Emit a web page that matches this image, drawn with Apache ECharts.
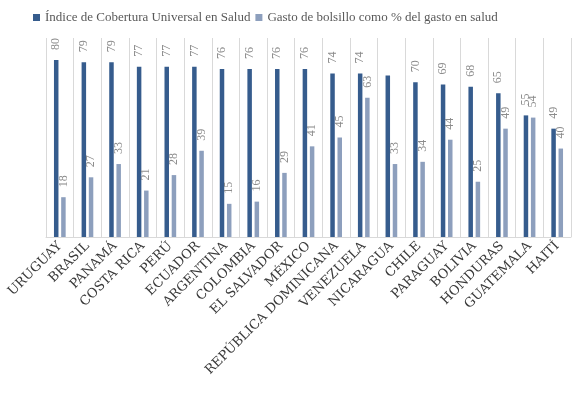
<!DOCTYPE html>
<html>
<head>
<meta charset="utf-8">
<script src="https://cdn.jsdelivr.net/npm/echarts@6/dist/echarts.min.js"></script>
<style>
html, body { margin: 0; padding: 0; background: #fff; }
#chart { width: 573px; height: 396px; }
</style>
</head>
<body>
<div id="chart"></div>
<script>
var countries = ['URUGUAY', 'BRASIL', 'PANAMÁ', 'COSTA RICA', 'PERÚ', 'ECUADOR', 'ARGENTINA', 'COLOMBIA',
    'EL SALVADOR', 'MÉXICO', 'REPÚBLICA DOMINICANA', 'VENEZUELA', 'NICARAGUA', 'CHILE', 'PARAGUAY',
    'BOLIVIA', 'HONDURAS', 'GUATEMALA', 'HAITÍ'];
var cobertura = [80, 79, 79, 77, 77, 77, 76, 76, 76, 76, 74, 74, 73, 70, 69, 68, 65, 55, 49];
var gastoBolsillo = [18, 27, 33, 21, 28, 39, 15, 16, 29, 41, 45, 63, 33, 34, 44, 25, 49, 54, 40];
// el original no rotula la barra de cobertura de Nicaragua
var sinEtiqueta = ['NICARAGUA'];

var chartDom = document.getElementById('chart');
var myChart = echarts.init(chartDom);

function serie(nombre, datos, color) {
    return {
        name: nombre,
        type: 'bar',
        barWidth: 4.5,
        barGap: '60%',
        itemStyle: { color: color },
        data: datos.map(function (v, i) {
            var d = { value: v };
            if (nombre.indexOf('Índice') === 0 && sinEtiqueta.indexOf(countries[i]) >= 0) {
                d.label = { show: false };
            }
            return d;
        }),
        label: {
            show: true,
            position: 'top',
            rotate: 90,
            align: 'left',
            verticalAlign: 'middle',
            distance: 10,
            color: '#8c8c8c',
            fontFamily: 'Liberation Serif',
            fontSize: 12
        }
    };
}

var option = {
    animation: false,
    backgroundColor: '#fff',
    legend: {
        left: 28,
        top: 6,
        itemWidth: 7,
        itemHeight: 7,
        itemGap: 5,
        icon: 'rect',
        textStyle: {
            color: '#595959',
            fontFamily: 'Liberation Serif',
            fontSize: 13
        }
    },
    grid: {
        left: 46,
        right: 2,
        top: 38,
        bottom: 159
    },
    xAxis: {
        type: 'category',
        data: countries,
        axisLine: { lineStyle: { color: '#d9d9d9' } },
        axisTick: { show: false },
        splitLine: { show: true, lineStyle: { color: '#d9d9d9' } },
        axisLabel: {
            interval: 0,
            rotate: 45,
            margin: 7,
            color: '#3a3a3a',
            fontFamily: 'DejaVu Serif',
            fontSize: 13
        }
    },
    yAxis: {
        type: 'value',
        min: 0,
        max: 90,
        show: false,
        splitLine: { show: false }
    },
    series: [
        serie('Índice de Cobertura Universal en Salud', cobertura, '#365c8d'),
        serie('Gasto de bolsillo como % del gasto en salud', gastoBolsillo, '#8d9fbd')
    ]
};

myChart.setOption(option);
window.addEventListener('resize', function () {
    myChart.resize();
});
</script>
</body>
</html>
